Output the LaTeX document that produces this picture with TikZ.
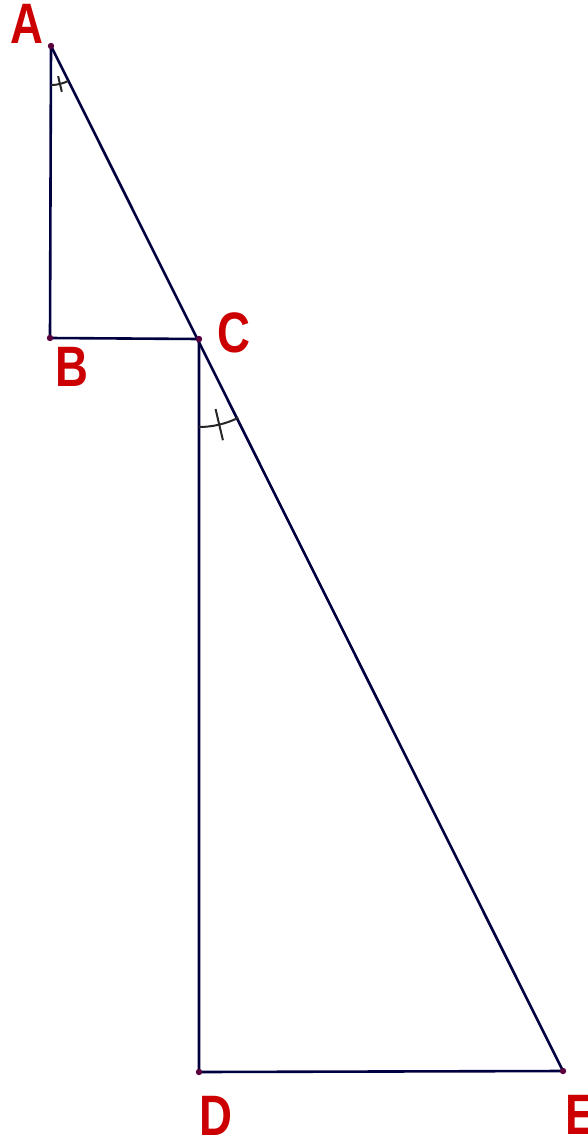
\documentclass[tikz,border=0pt]{standalone}
\usepackage{fontspec}
\setmainfont{Liberation Sans}[FakeStretch=0.8]
\definecolor{segcol}{RGB}{0,0,64}
\definecolor{lblcol}{RGB}{204,0,0}
\definecolor{dotcol}{RGB}{90,0,60}

\begin{document}
\begin{tikzpicture}[x=1pt,y=-1pt,
  seg/.style={segcol,line width=2.6pt},
  angmark/.style={black!85,line width=2pt},
  lbl/.style={text=lblcol,inner sep=0pt,font=\bfseries\fontsize{57}{57}\selectfont}]
  \useasboundingbox (0,0) rectangle (588,1140);
  % points
  \coordinate (A) at (51,46);
  \coordinate (B) at (50,338);
  \coordinate (C) at (199,339);
  \coordinate (D) at (199,1072);
  \coordinate (E) at (563,1071);
  % segments
  \draw[seg] (A) -- (B) -- (C) -- (D) -- (E);
  \draw[seg] (A) -- (E);
  % equal angles at A and C
  \draw[angmark] (A) ++(90:39) arc[start angle=90,end angle=63.5,radius=39];
  \draw[angmark] (A) ++(76.7:31) -- ++(76.7:16);
  \draw[angmark] (C) ++(90:88) arc[start angle=90,end angle=63.5,radius=88];
  \draw[angmark] (C) ++(76.7:72) -- ++(76.7:32);
  % vertex dots
  \foreach \p in {A,B,C,D,E}
    \fill[dotcol] (\p) circle (3.2);
  % labels
  \node[lbl] (labA) at (27,24) {A};
  \node[lbl] (labB) at (72,367) {B};
  \node[lbl] (labC) at (234,333) {C};
  \node[lbl] (labD) at (216,1116) {D};
  \node[lbl] (labE) at (581,1115) {E};
\end{tikzpicture}
\end{document}
